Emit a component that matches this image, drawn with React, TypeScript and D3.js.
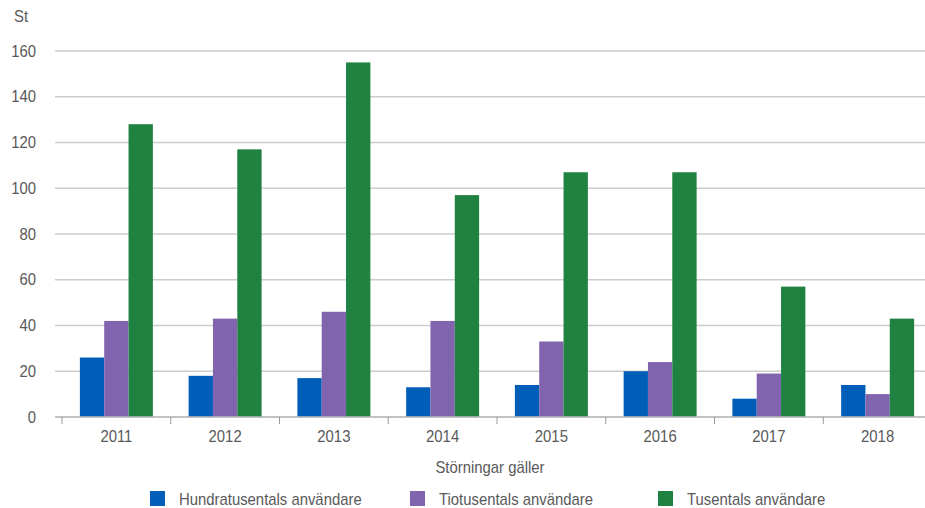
import React from "react";
import * as d3 from "d3";

const years = ["2011", "2012", "2013", "2014", "2015", "2016", "2017", "2018"];
const seriesNames = ["Hundratusentals användare", "Tiotusentals användare", "Tusentals användare"];
const hundratusentals = [26, 18, 17, 13, 14, 20, 8, 14];
const tiotusentals = [42, 43, 46, 42, 33, 24, 19, 10];
const tusentals = [128, 117, 155, 97, 107, 107, 57, 43];
const colors = ["#005EB8", "#8064AE", "#1F8241"];
const yTicks = [0, 20, 40, 60, 80, 100, 120, 140, 160];

const W = 925, H = 508;
const FONT = "'Liberation Sans', Arial, sans-serif";
const TXT = "#595959";

export default function App() {
  const series = [hundratusentals, tiotusentals, tusentals];
  const x = d3.scaleBand<string>().domain(years).range([62, 932]).paddingInner(0).paddingOuter(0);
  const inner = d3.scaleBand<number>().domain([0, 1, 2]).range([0, x.bandwidth()]).paddingOuter(0.735).paddingInner(0);
  const y = d3.scaleLinear().domain([0, 160]).range([417, 51]);

  const legendX = [150, 410, 658];
  const sx = 0.93;

  const T = (props: { x: number; y: number; anchor?: string; size?: number; children: React.ReactNode }) => (
    <text
      transform={`translate(${props.x},${props.y}) scale(${sx},1)`}
      textAnchor={props.anchor || "start"}
      dy="0.35em"
      fontSize={props.size || 16}
      fill={TXT}
    >
      {props.children}
    </text>
  );

  return (
    <svg width={W} height={H} style={{ position: "absolute", left: 0, top: 0, background: "#fff" }} fontFamily={FONT}>
      <T x={14} y={16} size={16}>St</T>
      {yTicks.map((t) => (
        <g key={t}>
          <line x1={55} x2={W} y1={y(t)} y2={y(t)} stroke="#cccccc" strokeWidth={1.3} />
          <T x={36} y={y(t)} anchor="end">{t}</T>
        </g>
      ))}
      {series.map((vals, si) =>
        vals.map((v, i) => (
          <rect
            key={`${si}-${i}`}
            x={(x(years[i]) as number) + (inner(si) as number)}
            y={y(v)}
            width={inner.bandwidth()}
            height={y(0) - y(v)}
            fill={colors[si]}
          />
        ))
      )}
      <line x1={55} x2={W} y1={y(0)} y2={y(0)} stroke="#bbbbbb" strokeWidth={1.3} />
      {years.map((yr) => (
        <line key={"t" + yr} x1={x(yr) as number} x2={x(yr) as number} y1={y(0)} y2={y(0) + 7} stroke="#999" strokeWidth={1} />
      ))}
      {years.map((yr) => (
        <T key={"l" + yr} x={(x(yr) as number) + x.bandwidth() / 2} y={436} anchor="middle">{yr}</T>
      ))}
      <T x={490} y={467} anchor="middle">Störningar gäller</T>
      {seriesNames.map((n, i) => (
        <g key={n}>
          <rect x={legendX[i]} y={491} width={15} height={15} fill={colors[i]} />
          <T x={legendX[i] + 29} y={499}>{n}</T>
        </g>
      ))}
    </svg>
  );
}
